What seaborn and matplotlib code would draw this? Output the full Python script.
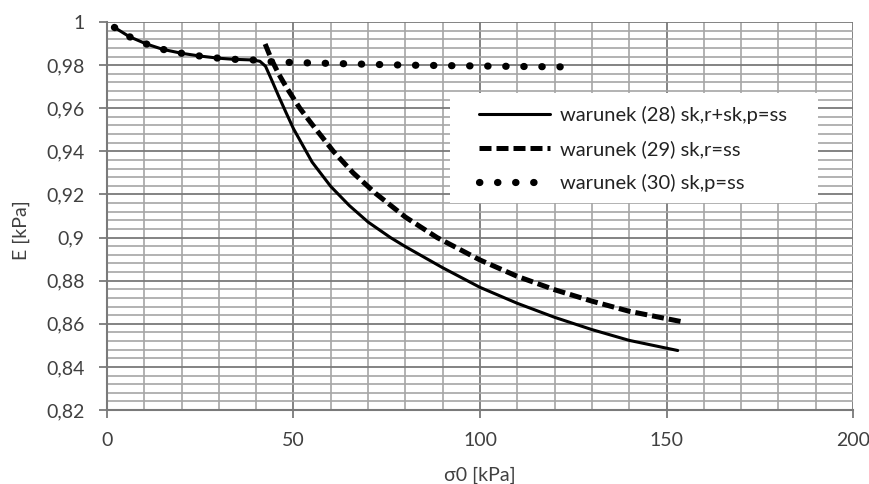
import pandas as pd
import matplotlib.pyplot as plt
import seaborn as sns
from matplotlib.patches import Rectangle
from matplotlib.ticker import MultipleLocator, FuncFormatter

# series
x28 = [2, 6, 10.6, 15, 20, 25, 30, 34, 39, 41, 42.5, 44, 46, 48, 50, 55, 60,
       65, 70, 76, 80, 90, 100, 110, 120, 130, 140, 153]
y28 = [0.9975, 0.9932, 0.9898, 0.9873, 0.9855, 0.9842, 0.9832, 0.9827, 0.9824,
       0.9818, 0.9795, 0.9737, 0.9657, 0.958, 0.9505, 0.935, 0.9237, 0.9148,
       0.9072, 0.900, 0.8958, 0.886, 0.8769, 0.8695, 0.863, 0.8573, 0.8523, 0.8476]

x29 = [42.4, 44, 46, 48, 51.7, 55, 60.7, 66, 72, 80, 88.5, 100, 110, 120, 130,
       140, 154]
y29 = [0.9898, 0.983, 0.976, 0.970, 0.960, 0.9525, 0.940, 0.930, 0.9205, 0.9095,
       0.900, 0.8896, 0.882, 0.8758, 0.8705, 0.8658, 0.861]

x30 = [2, 6, 10.6, 15, 20, 25, 30, 34, 39, 44, 50, 60, 70, 80, 90, 100, 110, 121.5]
y30 = [0.9975, 0.9932, 0.9898, 0.9873, 0.9855, 0.9842, 0.9832, 0.9827, 0.9824,
       0.9816, 0.9812, 0.9808, 0.9804, 0.9800, 0.9798, 0.9796, 0.9794, 0.9792]

labels = ["warunek (28) sk,r+sk,p=ss", "warunek (29) sk,r=ss", "warunek (30) sk,p=ss"]

sns.set_theme(style="white")
plt.rcParams["font.family"] = ["Lato", "DejaVu Sans"]

fig = plt.figure(figsize=(8.69, 4.84), dpi=100)
ax = fig.add_axes([0.1231, 0.1529, 0.8585, 0.8016])

sns.lineplot(x=x28, y=y28, color="black", linewidth=2.2, estimator=None,
             sort=False, label=labels[0], ax=ax)
sns.lineplot(x=x29, y=y29, color="black", linewidth=3.6, estimator=None,
             sort=False, linestyle=(0, (2.4, 1.0)), label=labels[1], ax=ax)
sns.lineplot(x=x30, y=y30, color="black", linewidth=5.2, estimator=None,
             sort=False, linestyle=(0, (0.05, 2.45)), dash_capstyle="round",
             label=labels[2], ax=ax)

ax.set_xlim(0, 200)
ax.set_ylim(0.82, 1.0)
ax.xaxis.set_major_locator(MultipleLocator(50))
ax.xaxis.set_minor_locator(MultipleLocator(10))
ax.yaxis.set_major_locator(MultipleLocator(0.02))
ax.yaxis.set_minor_locator(MultipleLocator(0.004))
ax.yaxis.set_major_formatter(FuncFormatter(lambda v, p: f"{round(v, 3):g}".replace(".", ",")))

ax.grid(which="major", color="#7a7a7a", linewidth=1.3)
ax.grid(which="minor", color="#a6a6a6", linewidth=1.2)
ax.set_axisbelow(True)
for s in ["top", "right"]:
    ax.spines[s].set_visible(False)
for s in ["left", "bottom"]:
    ax.spines[s].set_color("#7a7a7a")
    ax.spines[s].set_linewidth(1.5)

ax.tick_params(which="major", direction="out", length=6, width=1.3, color="#7a7a7a",
               labelsize=14, labelcolor="#404040", left=True, bottom=True, pad=10)
ax.tick_params(which="minor", length=0)

ax.set_xlabel("σ0 [kPa]", fontsize=14, color="#404040")
ax.set_ylabel("E [kPa]", fontsize=14, color="#404040")
ax.xaxis.set_label_coords(0.5, -0.145)
ax.yaxis.set_label_coords(-0.103, 0.464)

# white box behind the legend, hiding the grid like the original
ax.add_patch(Rectangle((0.4598, 0.5335), 0.4933, 0.2835, transform=ax.transAxes,
                       facecolor="white", edgecolor="none", zorder=1.5))

leg = ax.legend(loc="upper left", bbox_to_anchor=(0.488, 0.804), fontsize=14.5,
                frameon=False, handlelength=3.5, handletextpad=0.5,
                labelspacing=0.8, borderpad=0.4, borderaxespad=0)
for t in leg.get_texts():
    t.set_color("#222222")

plt.savefig("out.png", dpi=100)
plt.close()
